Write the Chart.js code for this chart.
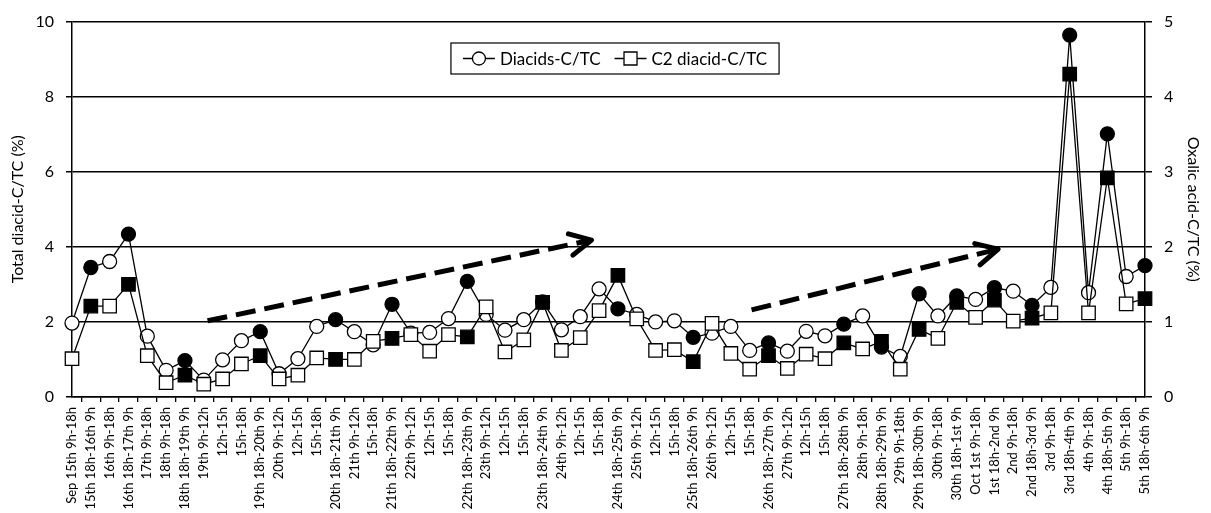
<!DOCTYPE html>
<html>
<head>
<meta charset="utf-8">
<script src="https://cdn.jsdelivr.net/npm/chart.js@4.4.1/dist/chart.umd.min.js"></script>
<style>
  body { margin: 0; background: #fff; }
  #wrap { width: 1211px; height: 513px; }
</style>
</head>
<body>
<div id="wrap"><canvas id="js-diacid__chart"></canvas></div>
<script>
// Sampling periods (Sep 15th - Oct 6th)
const sampleLabels = [
  'Sep 15th 9h-18h', '15th 18h-16th 9h', '16th 9h-18h', '16th 18h-17th 9h',
  '17th 9h-18h', '18th 9h-18h', '18th 18h-19th 9h', '19th 9h-12h',
  '12h-15h', '15h-18h', '19th 18h-20th 9h', '20th 9h-12h',
  '12h-15h', '15h-18h', '20th 18h-21th 9h', '21th 9h-12h',
  '15h-18h', '21th 18h-22th 9h', '22th 9h-12h', '12h-15h',
  '15h-18h', '22th 18h-23th 9h', '23th 9h-12h', '12h-15h',
  '15h-18h', '23th 18h-24th 9h', '24th 9h-12h', '12h-15h',
  '15h-18h', '24th 18h-25th 9h', '25th 9h-12h', '12h-15h',
  '15h-18h', '25th 18h-26th 9h', '26th 9h-12h', '12h-15h',
  '15h-18h', '26th 18h-27th 9h', '27th 9h-12h', '12h-15h',
  '15h-18h', '27th 18h-28th 9h', '28th 9h-18h', '28th 18h-29th 9h',
  '29th 9h-18th', '29th 18h-30th 9h', '30th 9h-18h', '30th 18h-1st 9h',
  'Oct 1st 9h-18h', '1st 18h-2nd 9h', '2nd 9h-18h', '2nd 18h-3rd 9h',
  '3rd 9h-18h', '3rd 18h-4th 9h', '4th 9h-18h', '4th 18h-5th 9h',
  '5th 9h-18h', '5th 18h-6th 9h'
];

// Total diacid-C/TC (%), left axis
const diacidsTC = [
  1.97, 3.45, 3.61, 4.34, 1.62, 0.71, 0.97, 0.45, 0.99, 1.50,
  1.74, 0.62, 1.02, 1.88, 2.06, 1.74, 1.39, 2.47, 1.70, 1.72,
  2.09, 3.08, 2.20, 1.78, 2.06, 2.53, 1.79, 2.14, 2.88, 2.35,
  2.20, 2.00, 2.03, 1.59, 1.70, 1.88, 1.24, 1.44, 1.22, 1.75,
  1.63, 1.94, 2.16, 1.33, 1.08, 2.75, 2.16, 2.69, 2.60, 2.91,
  2.82, 2.44, 2.92, 9.64, 2.78, 7.01, 3.21, 3.50
];

// Oxalic (C2) acid-C/TC (%), right axis
const oxalicTC = [
  0.51, 1.21, 1.21, 1.50, 0.55, 0.19, 0.29, 0.17, 0.24, 0.44,
  0.55, 0.24, 0.29, 0.52, 0.50, 0.50, 0.74, 0.78, 0.83, 0.61,
  0.83, 0.80, 1.20, 0.60, 0.76, 1.26, 0.62, 0.79, 1.15, 1.62,
  1.04, 0.62, 0.63, 0.47, 0.98, 0.58, 0.37, 0.55, 0.38, 0.57,
  0.51, 0.72, 0.64, 0.74, 0.37, 0.90, 0.78, 1.26, 1.06, 1.29,
  1.01, 1.05, 1.12, 4.30, 1.12, 2.92, 1.24, 1.31
];

const leftTicks = [0, 2, 4, 6, 8, 10];
const rightTicks = [0, 1, 2, 3, 4, 5];

// trend arrows, in (category index, left-axis value)
const trendArrows = [
  { from: [7.2, 2.03], to: [27.6, 4.18] },
  { from: [36.1, 2.32], to: [49.2, 3.94] }
];

const FONT = 'Lato, "Open Sans", sans-serif';

// night samples (18h - 9h) are drawn with filled markers
const markerFill = sampleLabels.map(l => l.endsWith('9h') ? '#000' : '#fff');

const arrowPlugin = {
  id: 'trendArrows',
  afterDatasetsDraw(chart) {
    const ctx = chart.ctx;
    const xs = chart.scales.x;
    const ys = chart.scales.y;
    ctx.save();
    ctx.strokeStyle = '#000';
    trendArrows.forEach(a => {
      const x0 = xs.getPixelForValue(a.from[0]);
      const y0 = ys.getPixelForValue(a.from[1]);
      const x1 = xs.getPixelForValue(a.to[0]);
      const y1 = ys.getPixelForValue(a.to[1]);
      const ang = Math.atan2(y1 - y0, x1 - x0);
      ctx.lineWidth = 5;
      ctx.lineCap = 'butt';
      ctx.setLineDash([20, 9]);
      ctx.beginPath();
      ctx.moveTo(x0, y0);
      ctx.lineTo(x1 - 3 * Math.cos(ang), y1 - 3 * Math.sin(ang));
      ctx.stroke();
      // open chevron head
      ctx.setLineDash([]);
      ctx.lineCap = 'round';
      ctx.lineJoin = 'round';
      const len = 24, spread = 27 * Math.PI / 180;
      ctx.beginPath();
      ctx.moveTo(x1 - len * Math.cos(ang - spread), y1 - len * Math.sin(ang - spread));
      ctx.lineTo(x1, y1);
      ctx.lineTo(x1 - len * Math.cos(ang + spread), y1 - len * Math.sin(ang + spread));
      ctx.stroke();
    });
    ctx.restore();
  }
};

const boxLegendPlugin = {
  id: 'boxLegend',
  afterDraw(chart, args, opts) {
    const ctx = chart.ctx;
    const ds = chart.data.datasets;
    ctx.save();
    ctx.font = opts.fontSize + 'px ' + FONT;
    const sample = 32, gap = 5, itemGap = 14, pad = 12;
    const widths = ds.map(d => ctx.measureText(d.label).width);
    const total = pad * 2 + widths.reduce((s, w) => s + sample + gap + w, 0) + itemGap * (ds.length - 1);
    const left = opts.centerX - total / 2;
    const top = opts.top;
    const h = opts.height;
    ctx.fillStyle = '#fff';
    ctx.fillRect(left, top, total, h);
    ctx.strokeStyle = '#000';
    ctx.lineWidth = 1.2;
    ctx.strokeRect(left, top, total, h);
    const cy = top + h / 2;
    let x = left + pad;
    ds.forEach((d, i) => {
      ctx.lineWidth = 1.3;
      ctx.beginPath();
      ctx.moveTo(x, cy);
      ctx.lineTo(x + sample, cy);
      ctx.stroke();
      ctx.fillStyle = '#fff';
      ctx.beginPath();
      if (d.pointStyle === 'rect') {
        ctx.rect(x + sample / 2 - 6.5, cy - 6.5, 13, 13);
      } else {
        ctx.arc(x + sample / 2, cy, 6.5, 0, Math.PI * 2);
      }
      ctx.fill();
      ctx.stroke();
      ctx.fillStyle = '#000';
      ctx.textBaseline = 'middle';
      ctx.fillText(d.label, x + sample + gap, cy + 1);
      x += sample + gap + widths[i] + itemGap;
    });
    ctx.restore();
  }
};

const diacidData = {
  labels: sampleLabels,
  datasets: [{
    label: 'Diacids-C/TC',
    data: diacidsTC,
    yAxisID: 'y',
    borderColor: '#000',
    borderWidth: 1.3,
    pointStyle: 'circle',
    pointRadius: 7,
    pointBorderWidth: 1.3,
    pointBorderColor: '#000',
    pointBackgroundColor: markerFill,
    order: 2
  },
  {
    label: 'C2 diacid-C/TC',
    data: oxalicTC,
    yAxisID: 'y2',
    borderColor: '#000',
    borderWidth: 1.3,
    pointStyle: 'rect',
    pointRadius: 9.5,
    pointBorderWidth: 1.3,
    pointBorderColor: '#000',
    pointBackgroundColor: markerFill,
    order: 1
  }]
};

const diacidConfig = {
  type: 'line',
  data: diacidData,
  options: {
    responsive: true,
    maintainAspectRatio: false,
    animation: false,
    layout: { padding: { top: 17, left: 0, right: 0, bottom: 0 } },
    plugins: {
      legend: { display: false },
      tooltip: { enabled: false },
      boxLegend: { centerX: 615, top: 43, height: 31, fontSize: 17 }
    },
    scales: {
      x: {
        grid: { offset: true, drawOnChartArea: false, color: '#000', lineWidth: 1.3, tickLength: 5 },
        border: { color: '#000', width: 1.5 },
        ticks: {
          autoSkip: false, maxRotation: 90, minRotation: 90, padding: 5,
          color: '#000', font: { family: FONT, size: 13 }
        },
        afterFit: s => { s.height = 116; }
      },
      y: {
        position: 'left',
        min: 0, max: 10,
        afterBuildTicks: s => { s.ticks = leftTicks.map(v => ({ value: v })); },
        grid: { color: '#000', lineWidth: 1.5, tickLength: 6 },
        border: { color: '#000', width: 1.5 },
        ticks: { padding: 12, color: '#000', font: { family: FONT, size: 16 } },
        title: {
          display: true, text: 'Total diacid-C/TC (%)', color: '#000',
          font: { family: FONT, size: 16 }, padding: { top: 8, bottom: 0 }
        },
        afterFit: s => { s.width = 72; }
      },
      y2: {
        position: 'right',
        min: 0, max: 5,
        afterBuildTicks: s => { s.ticks = rightTicks.map(v => ({ value: v })); },
        grid: { drawOnChartArea: false, color: '#000', lineWidth: 1.5, tickLength: 7 },
        border: { color: '#000', width: 1.5 },
        ticks: { padding: 12, color: '#000', font: { family: FONT, size: 16 } },
        title: {
          display: true, text: 'Oxalic acid-C/TC (%)', color: '#000',
          font: { family: FONT, size: 16 }, padding: { top: 8, bottom: 0 }
        },
        afterFit: s => { s.width = 66; }
      }
    }
  },
  plugins: [arrowPlugin, boxLegendPlugin]
};

const diacidChart = new Chart(
  document.getElementById('js-diacid__chart'),
  diacidConfig
);
</script>
</body>
</html>
